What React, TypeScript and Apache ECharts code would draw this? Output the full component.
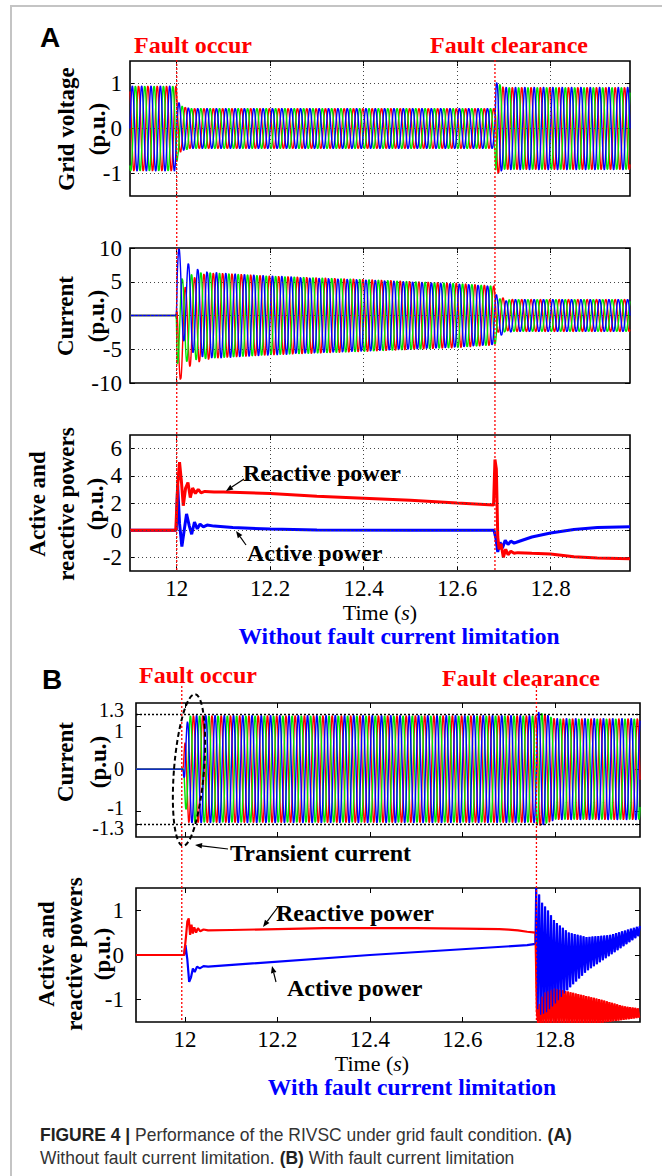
import React, { useEffect, useRef } from "react";
import * as echarts from "echarts";

// ---------------- DATA ----------------
const F_GRID = 50; // grid frequency (Hz)
const DT = 0.0004; // sampling step of waveforms (s)
const PHASE_COLORS = ["#ff0000", "#00e600", "#0000ff"]; // phases a, b, c
const PHASE_DEG = [120, -120, 0];

const X_TICKS = [12, 12.2, 12.4, 12.6, 12.8];
const A_X_RANGE = [11.9, 12.97];
const B_X_RANGE = [11.894, 12.984];
const A_FAULT = 12.0;
const A_CLEAR = 12.681;
const B_FAULT = 11.993;
const B_CLEAR = 12.76;

// (A) grid voltage: amplitude envelope of the three phase voltages
const A1_Y_TICKS = [-1, 0, 1];
const A1_ENV_T = [11.9, 11.999, 12.002, 12.01, 12.03, 12.681, 12.683, 12.69, 12.7, 12.97];
const A1_ENV_V = [0.95, 0.95, 0.62, 0.5, 0.45, 0.45, 1.05, 1.0, 0.92, 0.92];

// (A) current: amplitude envelope and decaying offsets per phase
const A2_Y_TICKS = [-10, -5, 0, 5, 10];
const A2_ENV_T = [11.9, 11.999, 12.001, 12.02, 12.05, 12.2, 12.4, 12.6, 12.681, 12.686, 12.7, 12.97];
const A2_ENV_V = [0, 0, 6.2, 6.4, 6.5, 5.9, 5.4, 4.8, 4.4, 2.9, 2.4, 2.4];
const A2_DC_T = [11.9, 11.999, 12.001, 12.005, 12.025, 12.045, 12.065, 12.09, 12.681, 12.688, 12.7, 12.72];
const A2_DC_RED = [0, 0, -3.9, -3.7, -1.3, -0.5, -0.15, 0, 0, 0.3, 0.15, 0];
const A2_DC_GREEN = [0, 0, -1.0, -0.9, -0.4, -0.1, 0, 0, 0, -0.2, -0.1, 0];
const A2_DC_BLUE = [0, 0, 3.9, 3.7, 1.3, 0.5, 0.15, 0, 0, -0.5, -0.25, 0];

// (A) active / reactive powers
const A3_Y_TICKS = [-2, 0, 2, 4, 6];
const A3_Q_T = [11.9, 11.998, 12.002, 12.006, 12.01, 12.014, 12.019, 12.024, 12.029, 12.034, 12.04, 12.046, 12.052, 12.06, 12.08, 12.1, 12.2, 12.3, 12.4, 12.5, 12.6, 12.678, 12.681, 12.684, 12.687, 12.69, 12.694, 12.699, 12.704, 12.709, 12.715, 12.722, 12.73, 12.76, 12.8, 12.85, 12.9, 12.97];
const A3_Q_V = [0, 0, 3.3, 5.0, 3.6, 1.8, 3.1, 3.5, 2.4, 3.1, 2.7, 3.0, 2.75, 2.85, 2.8, 2.8, 2.7, 2.5, 2.35, 2.2, 2.0, 1.85, 5.2, 4.5, -0.5, -1.4, -1.0, -2.0, -1.4, -1.8, -1.55, -1.7, -1.65, -1.7, -1.75, -1.95, -2.05, -2.1];
const A3_P_T = [11.9, 11.999, 12.002, 12.006, 12.011, 12.016, 12.021, 12.027, 12.032, 12.038, 12.044, 12.05, 12.057, 12.065, 12.08, 12.12, 12.2, 12.3, 12.5, 12.679, 12.683, 12.687, 12.692, 12.697, 12.703, 12.709, 12.715, 12.722, 12.73, 12.76, 12.8, 12.85, 12.9, 12.97];
const A3_P_V = [0, 0, 3.3, 0.5, -1.2, 0.0, 1.2, 0.3, -0.3, 0.6, 0.1, 0.45, 0.25, 0.38, 0.3, 0.2, 0.08, 0.02, 0.0, 0.0, -0.6, -1.6, -0.9, -1.3, -0.75, -1.05, -0.8, -0.95, -0.85, -0.5, -0.2, 0.05, 0.2, 0.25];

// (B) current with limitation
const B1_Y_TICKS = [-1.3, -1, 0, 1, 1.3];
const B1_LIMITS = [-1.3, 1.3];
const B1_ENV_T = [11.894, 11.996, 12.001, 12.008, 12.76, 12.765, 12.78, 12.8, 12.984];
const B1_ENV_V = [0, 0, 0.9, 1.27, 1.27, 1.35, 1.3, 1.2, 1.2];

// (B) active / reactive powers
const B2_Y_TICKS = [-1, 0, 1];
const B2_Q_T = [11.894, 11.998, 12.002, 12.005, 12.008, 12.011, 12.014, 12.017, 12.02, 12.024, 12.028, 12.033, 12.04, 12.05, 12.1, 12.2, 12.3, 12.4, 12.5, 12.6, 12.68, 12.7, 12.72, 12.74, 12.758];
const B2_Q_V = [0, 0, 0.4, 0.75, 0.82, 0.45, 0.68, 0.48, 0.62, 0.5, 0.6, 0.53, 0.57, 0.55, 0.56, 0.58, 0.6, 0.6, 0.6, 0.59, 0.58, 0.57, 0.55, 0.52, 0.5];
const B2_Q_UP_T = [12.76, 12.775, 12.8, 12.86, 12.9, 12.95, 12.984];
const B2_Q_UP_V = [-1.3, -0.85, -0.75, -0.9, -1.0, -1.15, -1.2];
const B2_Q_LO_T = [12.76, 12.9, 12.95, 12.984];
const B2_Q_LO_V = [-1.52, -1.52, -1.45, -1.4];
const B2_P_T = [11.894, 11.998, 12.001, 12.005, 12.009, 12.013, 12.017, 12.021, 12.026, 12.032, 12.04, 12.05, 12.4, 12.74, 12.758];
const B2_P_V = [0, 0, 0.22, -0.1, -0.6, -0.5, -0.3, -0.38, -0.26, -0.3, -0.25, -0.26, 0.0, 0.22, 0.25];
const B2_P_UP_T = [12.759, 12.762, 12.77, 12.785, 12.8, 12.83, 12.87, 12.92, 12.984];
const B2_P_UP_V = [1.5, 1.5, 1.2, 1.0, 0.75, 0.5, 0.4, 0.45, 0.65];
const B2_P_LO_T = [12.759, 12.765, 12.78, 12.8, 12.83, 12.87, 12.92, 12.984];
const B2_P_LO_V = [-1.0, -1.35, -1.3, -1.1, -0.75, -0.35, 0.0, 0.45];

// ---------------- STYLE / LAYOUT ----------------
const SERIF = '"Liberation Serif", "Times New Roman", serif';
const SANS = '"Liberation Sans", Arial, Helvetica, sans-serif';
const RED = "#ff0000";
const BLUE = "#0000ff";

const PANELS = [
  { grid: { left: 130, top: 61, width: 500, height: 135 }, xr: A_X_RANGE, yr: [-1.5, 1.5], yt: A1_Y_TICKS, labels: false, dots: true, margin: 8, ownLabels: false },
  { grid: { left: 130, top: 248, width: 500, height: 135 }, xr: A_X_RANGE, yr: [-10, 10], yt: A2_Y_TICKS, labels: false, dots: true, margin: 8, ownLabels: false },
  { grid: { left: 130, top: 435, width: 500, height: 136 }, xr: A_X_RANGE, yr: [-3, 7], yt: A3_Y_TICKS, labels: true, dots: true, margin: 8, ownLabels: false },
  { grid: { left: 136, top: 703, width: 504, height: 134 }, xr: B_X_RANGE, yr: [-1.6, 1.56], yt: B1_Y_TICKS, labels: false, dots: false, margin: 12, ownLabels: true },
  { grid: { left: 136, top: 888, width: 504, height: 134 }, xr: B_X_RANGE, yr: [-1.5, 1.5], yt: B2_Y_TICKS, labels: true, dots: false, margin: 12, ownLabels: false },
];
// small vertical nudges of the crowded panel-B current labels (-1.3, -1, 0, 1, 1.3)
const B1_LABEL_NUDGE = [4, -4, 0, 4, -4];

// ---------------- HELPERS ----------------
function interp(ts: number[], vs: number[], t: number) {
  if (t <= ts[0]) return vs[0];
  for (let i = 1; i < ts.length; i++) {
    if (t <= ts[i]) {
      const f = (t - ts[i - 1]) / (ts[i] - ts[i - 1]);
      return vs[i - 1] + f * (vs[i] - vs[i - 1]);
    }
  }
  return vs[vs.length - 1];
}

function threePhase(range: number[], envT: number[], envV: number[], dc?: number[][], dcT?: number[]) {
  return PHASE_COLORS.map((_, k) => {
    const pts: number[][] = [];
    const n = Math.round((range[1] - range[0]) / DT);
    for (let i = 0; i <= n; i++) {
      const t = range[0] + i * DT;
      const a = interp(envT, envV, t);
      const d = dc && dcT ? interp(dcT, dc[k], t) : 0;
      pts.push([t, a * Math.sin(2 * Math.PI * F_GRID * t + (PHASE_DEG[k] * Math.PI) / 180) + d]);
    }
    return pts;
  });
}

function band(t0: number, t1: number, step: number, upT: number[], upV: number[], loT: number[], loV: number[]) {
  const pts: number[][] = [];
  let k = 0;
  for (let t = t0; t <= t1 + 1e-9; t += step, k++) {
    pts.push([t, k % 2 === 0 ? interp(upT, upV, t) : interp(loT, loV, t)]);
  }
  return pts;
}

const zip = (ts: number[], vs: number[]) => ts.map((t, i) => [t, vs[i]]);
const fmt = (v: number) => String(Math.round(v * 10) / 10);

function lineSeries(idx: number, data: number[][], color: string, width: number, z = 3) {
  return {
    type: "line",
    xAxisIndex: idx * 2,
    yAxisIndex: idx * 2,
    data,
    showSymbol: false,
    symbol: "none",
    silent: true,
    z,
    lineStyle: { color, width },
    itemStyle: { color },
    animation: false,
  };
}

function buildOption() {
  const grid: any[] = [];
  const xAxis: any[] = [];
  const yAxis: any[] = [];
  const series: any[] = [];
  PANELS.forEach((p, i) => {
    grid.push({ ...p.grid, show: true, borderColor: "#000", borderWidth: 1.6, backgroundColor: "transparent" });
    ["bottom", "top"].forEach((pos, j) => {
      xAxis.push({
        type: "value",
        gridIndex: i,
        position: pos,
        min: p.xr[0],
        max: p.xr[1],
        axisLine: { show: false, onZero: false },
        splitLine: { show: false },
        axisTick: { show: true, inside: true, length: 5, customValues: X_TICKS, lineStyle: { color: "#000", width: 1 } },
        axisLabel: {
          show: j === 0 && p.labels,
          customValues: X_TICKS,
          formatter: fmt,
          margin: 6,
          color: "#000",
          fontFamily: SERIF,
          fontSize: 23,
        },
      });
    });
    ["left", "right"].forEach((pos, j) => {
      yAxis.push({
        type: "value",
        gridIndex: i,
        position: pos,
        min: p.yr[0],
        max: p.yr[1],
        axisLine: { show: false, onZero: false },
        splitLine: { show: false },
        axisTick: { show: true, inside: true, length: 5, customValues: p.yt, lineStyle: { color: "#000", width: 1 } },
        axisLabel: {
          show: j === 0 && !p.ownLabels,
          hideOverlap: false,
          customValues: p.yt,
          formatter: fmt,
          margin: p.margin,
          color: "#000",
          fontFamily: SERIF,
          fontSize: 23,
        },
      });
    });
    // dotted grid lines
    const ml: any[] = [];
    if (p.dots) {
      X_TICKS.forEach((x) => ml.push({ xAxis: x }));
      p.yt.forEach((y) => {
        if (y > p.yr[0] && y < p.yr[1]) ml.push({ yAxis: y });
      });
    }
    if (ml.length) {
      series.push({
        type: "line",
        xAxisIndex: i * 2,
        yAxisIndex: i * 2,
        data: [],
        z: 1,
        silent: true,
        markLine: {
          silent: true,
          animation: false,
          symbol: ["none", "none"],
          label: { show: false },
          lineStyle: { color: "#444", type: [1, 3], width: 1 },
          data: ml,
        },
      });
    }
  });

  // A1 grid voltage
  threePhase(A_X_RANGE, A1_ENV_T, A1_ENV_V).forEach((d, k) => series.push(lineSeries(0, d, PHASE_COLORS[k], 1.4)));
  // A2 current
  threePhase(A_X_RANGE, A2_ENV_T, A2_ENV_V, [A2_DC_RED, A2_DC_GREEN, A2_DC_BLUE], A2_DC_T).forEach((d, k) =>
    series.push(lineSeries(1, d, PHASE_COLORS[k], 1.4))
  );
  // A3 powers
  series.push(lineSeries(2, zip(A3_P_T, A3_P_V), BLUE, 3));
  series.push(lineSeries(2, zip(A3_Q_T, A3_Q_V), RED, 3, 4));
  // B1 current
  threePhase(B_X_RANGE, B1_ENV_T, B1_ENV_V).forEach((d, k) => series.push(lineSeries(3, d, PHASE_COLORS[k], 1.4)));
  series.push({
    type: "line",
    xAxisIndex: 6,
    yAxisIndex: 6,
    data: [],
    z: 5,
    silent: true,
    markLine: {
      silent: true,
      animation: false,
      symbol: ["none", "none"],
      label: { show: false },
      lineStyle: { color: "#000", type: [2, 2], width: 1.4 },
      data: B1_LIMITS.map((y) => ({ yAxis: y })),
    },
  });
  // B2 powers
  const bP = zip(B2_P_T, B2_P_V);
  const bPband = band(12.7595, B_X_RANGE[1], 0.0032, B2_P_UP_T, B2_P_UP_V, B2_P_LO_T, B2_P_LO_V);
  const bQ = zip(B2_Q_T, B2_Q_V);
  const bQband = band(12.761, B_X_RANGE[1], 0.0028, B2_Q_UP_T, B2_Q_UP_V, B2_Q_LO_T, B2_Q_LO_V);
  series.push(lineSeries(4, bP.concat(bPband), BLUE, 2.2));
  series.push(lineSeries(4, bQ.concat(bQband), RED, 2.2, 4));
  series.push(lineSeries(4, [bP[bP.length - 1]].concat(bPband), BLUE, 1.3, 5));
  series.push(lineSeries(4, [bQ[bQ.length - 1]].concat(bQband), RED, 1.3, 4));

  return { animation: false, backgroundColor: "#ffffff", grid, xAxis, yAxis, series };
}

function text(x: number, y: number, t: string, o: any = {}) {
  const { rotation, scaleX, ...style } = o;
  return {
    type: "text",
    x,
    y,
    rotation: rotation || 0,
    scaleX: scaleX || 1,
    silent: true,
    z: 100,
    style: {
      text: t,
      fill: "#000",
      fontFamily: SERIF,
      fontSize: 24,
      fontWeight: "bold",
      align: "left",
      textAlign: "left",
      verticalAlign: "middle",
      textVerticalAlign: "middle",
      ...style,
    },
  };
}

function arrow(x1: number, y1: number, x2: number, y2: number) {
  const ang = Math.atan2(y2 - y1, x2 - x1);
  const L = 7;
  const W = 2.8;
  const bx = x2 - L * Math.cos(ang);
  const by = y2 - L * Math.sin(ang);
  const px = -Math.sin(ang) * W;
  const py = Math.cos(ang) * W;
  return [
    { type: "line", silent: true, z: 100, shape: { x1, y1, x2: bx, y2: by }, style: { stroke: "#000", lineWidth: 1.2 } },
    {
      type: "polygon",
      silent: true,
      z: 100,
      shape: { points: [[x2, y2], [bx + px, by + py], [bx - px, by - py]] },
      style: { fill: "#000" },
    },
  ];
}

function vline(x: number, y1: number, y2: number) {
  return {
    type: "line",
    silent: true,
    z: 90,
    shape: { x1: x, y1, x2: x, y2 },
    style: { stroke: RED, lineWidth: 1.3, lineDash: [2, 2] },
  };
}

function buildGraphics(px: (xi: number, v: number) => number, py: (yi: number, v: number) => number) {
  const centerAlign = { align: "center", textAlign: "center" };
  const timeStyle = {
    fontWeight: "normal",
    fontSize: 22,
    ...centerAlign,
    rich: { i: { fontStyle: "italic", fontFamily: SERIF, fontSize: 22 } },
  };
  const capStyle = {
    fontFamily: SANS,
    fontWeight: "normal",
    fontSize: 18,
    fill: "#333",
    scaleX: 0.97,
    rich: { b: { fontFamily: SANS, fontWeight: "bold", fontSize: 18, fill: "#222" } },
  };
  // tick labels of panel B current, placed through the axis scale
  const b1 = PANELS[3];
  const b1Labels = B1_Y_TICKS.map((v, i) =>
    text(b1.grid.left - b1.margin, py(6, v) + B1_LABEL_NUDGE[i], fmt(v), {
      fontWeight: "normal",
      fontSize: 20,
      lineHeight: 20,
      align: "right",
      textAlign: "right",
    })
  );
  const els: any[] = [
    { type: "rect", silent: true, z: 0, shape: { x: 11, y: 6, width: 800, height: 1300 }, style: { fill: "none", stroke: "#c4c4c4", lineWidth: 2 } },
    // panel A
    text(40, 37, "A", { fontFamily: SANS, fontSize: 28 }),
    text(134, 45, "Fault occur", { fill: RED }),
    text(430, 45, "Fault clearance", { fill: RED }),
    text(82, 129, "Grid voltage\n(p.u.)", { rotation: Math.PI / 2, lineHeight: 31, fontSize: 23, ...centerAlign }),
    text(81, 316, "Current\n(p.u.)", { rotation: Math.PI / 2, lineHeight: 31, fontSize: 23, ...centerAlign }),
    text(66, 504, "Active and\nreactive powers\n(p.u.)", { rotation: Math.PI / 2, lineHeight: 29, fontSize: 23, ...centerAlign }),
    text(243, 473, "Reactive power"),
    ...arrow(244, 479, 226, 491),
    text(247, 553, "Active power"),
    ...arrow(246, 545, 236, 531),
    text(380, 612, "Time ({i|s})", timeStyle),
    text(399, 636, "Without fault current limitation", { fill: BLUE, fontSize: 23.5, ...centerAlign }),
    vline(px(0, A_FAULT), 60, 571),
    vline(px(0, A_CLEAR), 60, 571),
    // panel B
    text(42, 679, "B", { fontFamily: SANS, fontSize: 28 }),
    text(139, 675, "Fault occur", { fill: RED }),
    text(442, 678, "Fault clearance", { fill: RED }),
    ...b1Labels,
    text(82, 762, "Current\n(p.u.)", { rotation: Math.PI / 2, lineHeight: 33, fontSize: 23, ...centerAlign }),
    text(74, 954, "Active and\nreactive powers\n(p.u.)", { rotation: Math.PI / 2, lineHeight: 28, fontSize: 23, ...centerAlign }),
    {
      type: "ellipse",
      silent: true,
      z: 95,
      x: 189,
      y: 770,
      rotation: -0.08,
      shape: { cx: 0, cy: 0, rx: 15, ry: 76 },
      style: { fill: "none", stroke: "#000", lineWidth: 2, lineDash: [5, 3] },
    },
    text(230, 853, "Transient current"),
    ...arrow(228, 849, 195, 845),
    text(276, 913, "Reactive power"),
    ...arrow(278, 907, 263, 927),
    text(287, 988, "Active power"),
    ...arrow(276, 982, 272, 966),
    text(372, 1063, "Time ({i|s})", timeStyle),
    text(412, 1087, "With fault current limitation", { fill: BLUE, fontSize: 23.5, ...centerAlign }),
    vline(px(6, B_FAULT), 686, 1022),
    vline(px(6, B_CLEAR), 686, 1022),
    // caption
    text(40, 1135, "{b|FIGURE 4 |} Performance of the RIVSC under grid fault condition. {b|(A)}", capStyle),
    text(40, 1158, "Without fault current limitation. {b|(B)} With fault current limitation", capStyle),
  ];
  return els;
}

export default function App() {
  const ref = useRef<HTMLDivElement>(null);
  useEffect(() => {
    document.body.style.margin = "0";
    const chart = echarts.init(ref.current!, null, { renderer: "svg" });
    chart.setOption(buildOption() as any);
    const px = (xi: number, v: number) => chart.convertToPixel({ xAxisIndex: xi } as any, v) as unknown as number;
    const py = (yi: number, v: number) => chart.convertToPixel({ yAxisIndex: yi } as any, v) as unknown as number;
    chart.setOption({ graphic: { elements: buildGraphics(px, py) } } as any);
    return () => chart.dispose();
  }, []);
  return <div ref={ref} style={{ width: 662, height: 1176 }} />;
}
